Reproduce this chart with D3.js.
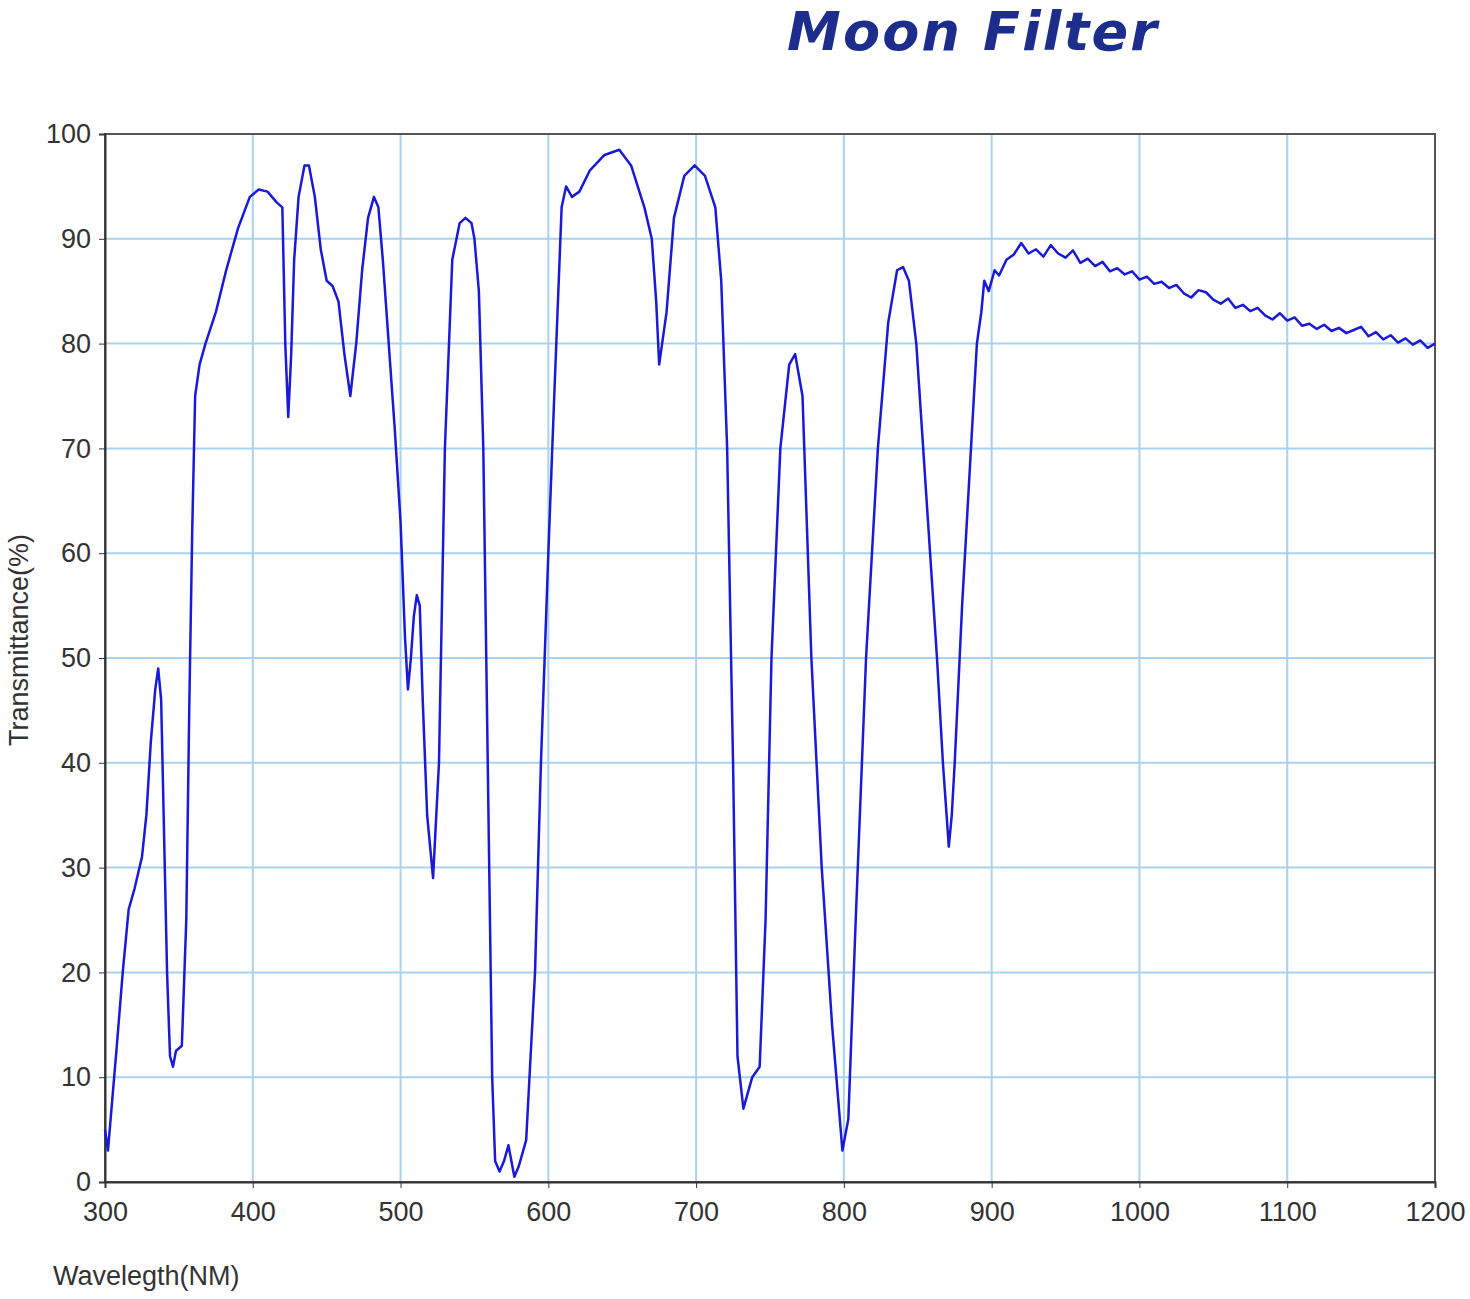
<!DOCTYPE html>
<html><head><meta charset="utf-8">
<script src="https://cdn.jsdelivr.net/npm/d3@7"></script>
<style>body{margin:0;background:#fff}text{font-family:"Liberation Sans",Arial,sans-serif}</style>
</head><body><svg id="c" width="1470" height="1299"></svg>
<script>
const xTicks=[300,400,500,600,700,800,900,1000,1100,1200];
const yTicks=[0,10,20,30,40,50,60,70,80,90,100];
const wavelength=[300,302,305,308,312,316,320,325,328,331,334,336,338,340,342,344,346,348,352,355,357,359,361,364,368,375,382,390,398,404,410,416,420,422,424,426,428,431,435,438,442,446,450,454,458,462,466,470,474,478,482,485,488,492,496,500,503,505,507,509,511,513,515,518,522,526,530,535,540,544,548,550,553,556,559,562,564,567,570,573,575,577,580,585,588,591,595,600,604,609,612,616,621,628,638,648,656,665,670,673,675,677,680,685,692,699,706,713,717,721,725,728,732,735,738,743,747,751,757,763,767,772,778,785,792,799,803,808,815,823,830,836,840,844,849,856,863,867,871,873,875,880,886,890,893,895,898,902,905,910,915,920,925,930,935,940,945,950,955,960,965,970,975,980,985,990,995,1000,1005,1010,1015,1020,1025,1030,1035,1040,1045,1050,1055,1060,1065,1070,1075,1080,1085,1090,1095,1100,1105,1110,1115,1120,1125,1130,1135,1140,1145,1150,1155,1160,1165,1170,1175,1180,1185,1190,1195,1200];
const transmittance=[5,3,8,13,20,26,28,31,35,42,47,49,46,33,20,12,11,12.5,13,25,45,62,75,78,80,83,87,91,94,94.7,94.5,93.5,93,80,73,79,88,94,97,97,94,89,86,85.5,84,79,75,80,87,92,94,93,88,80,72,63,52,47,50,54,56,55,46,35,29,40,70,88,91.5,92,91.5,90,85,70,40,10,2,1,2,3.5,2,0.5,1.5,4,12,20,40,60,75,93,95,94,94.5,96.5,98,98.5,97,93,90,84,78,80,83,92,96,97,96,93,86,70,40,12,7,8.5,10,11,25,50,70,78,79,75,50,30,15,3,6,25,50,70,82,87,87.3,86,80,65,50,40,32,35,40,55,70,80,83,86,85,87,86.5,88,88.5,89.6,88.6,89,88.3,89.4,88.6,88.2,88.9,87.7,88.1,87.4,87.8,86.9,87.2,86.6,86.9,86.1,86.4,85.7,85.9,85.3,85.6,84.8,84.4,85.1,84.9,84.2,83.8,84.3,83.4,83.7,83.1,83.4,82.7,82.3,82.9,82.2,82.5,81.7,81.9,81.4,81.8,81.2,81.5,81,81.3,81.6,80.7,81.1,80.4,80.8,80.1,80.5,79.9,80.3,79.6,80,79.5];
const svg=d3.select("#c");
const x=d3.scaleLinear().domain([300,1200]).range([105,1435]);
const y=d3.scaleLinear().domain([0,100]).range([1182,134]);
svg.append("g").selectAll("line").data(xTicks).join("line").attr("x1",d=>x(d)).attr("x2",d=>x(d)).attr("y1",y(0)).attr("y2",y(100)).attr("stroke","#a9d2ee").attr("stroke-width",2);
svg.append("g").selectAll("line").data(yTicks).join("line").attr("x1",x(300)).attr("x2",x(1200)).attr("y1",d=>y(d)).attr("y2",d=>y(d)).attr("stroke","#a9d2ee").attr("stroke-width",2);
svg.append("rect").attr("x",x(300)).attr("y",y(100)).attr("width",x(1200)-x(300)).attr("height",y(0)-y(100)).attr("fill","none").attr("stroke","#555").attr("stroke-width",2);
const xa=svg.append("g").attr("transform",`translate(0,${y(0)})`).call(d3.axisBottom(x).tickValues(xTicks).tickFormat(d3.format("d")).tickSize(6).tickPadding(14));
const ya=svg.append("g").attr("transform",`translate(${x(300)},0)`).call(d3.axisLeft(y).tickValues(yTicks).tickSize(6).tickPadding(8));
[xa,ya].forEach(a=>{a.select(".domain").attr("stroke","#333").attr("stroke-width",2);a.selectAll("line").attr("stroke","#333");a.selectAll("text").attr("font-size",27).attr("fill","#333").style("font-family","Liberation Sans, Arial")});
const pts=wavelength.map((w,i)=>[w,transmittance[i]]);
svg.append("path").datum(pts).attr("d",d3.line().x(d=>x(d[0])).y(d=>y(d[1]))).attr("fill","none").attr("stroke","#1a1ad6").attr("stroke-width",2.5).attr("stroke-linejoin","round");
svg.append("text").attr("x",972).attr("y",50).attr("text-anchor","middle").attr("font-size",54).attr("font-weight","bold").attr("font-style","italic").attr("fill","#1c2d8c").style("font-family","DejaVu Sans").attr("textLength",370).text("Moon Filter");
svg.append("text").attr("transform","translate(28,640) rotate(-90)").attr("text-anchor","middle").attr("font-size",27).attr("fill","#333").text("Transmittance(%)");
svg.append("text").attr("x",53).attr("y",1285).attr("font-size",27).attr("fill","#333").text("Wavelegth(NM)");
</script></body></html>
